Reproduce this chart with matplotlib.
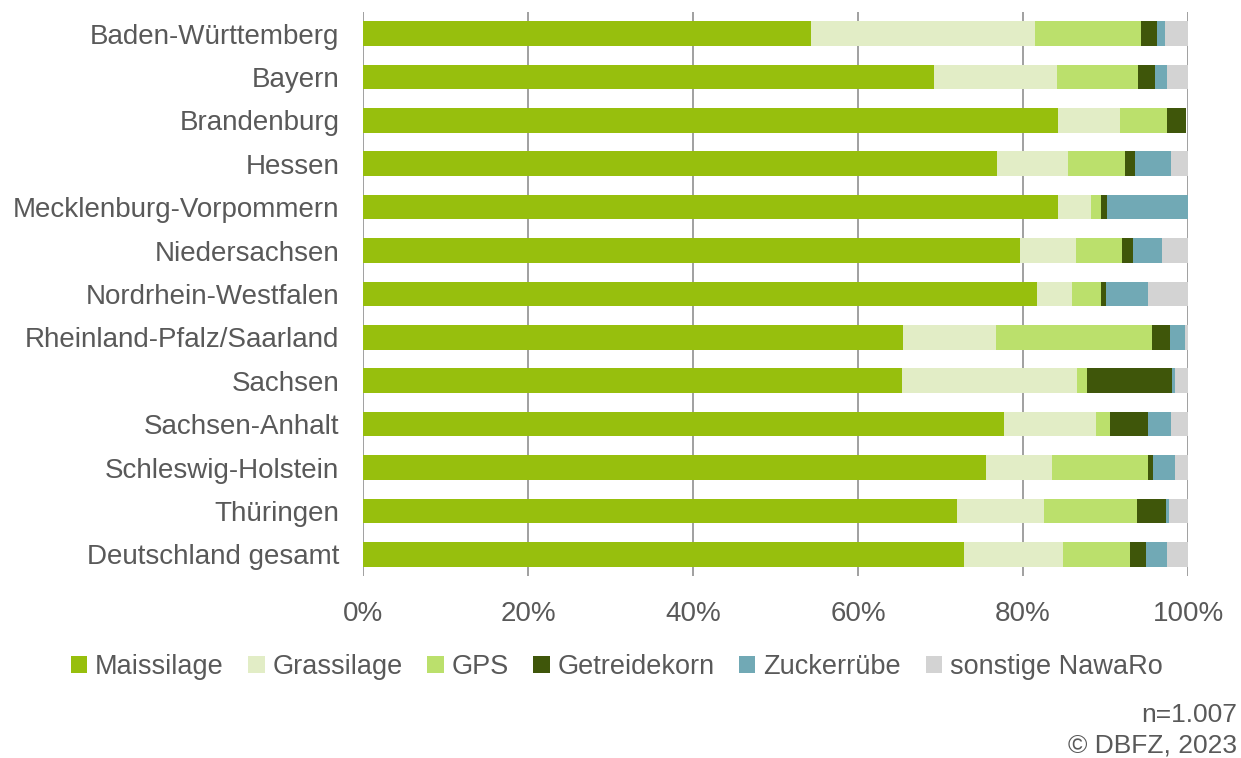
import matplotlib
matplotlib.use("Agg")
import matplotlib.pyplot as plt
import numpy as np

plt.rcParams['font.family'] = ['Liberation Sans', 'DejaVu Sans']

# Bundesländer, top to bottom
laender = ["Baden-Württemberg", "Bayern", "Brandenburg", "Hessen",
           "Mecklenburg-Vorpommern", "Niedersachsen", "Nordrhein-Westfalen",
           "Rheinland-Pfalz/Saarland", "Sachsen", "Sachsen-Anhalt",
           "Schleswig-Holstein", "Thüringen", "Deutschland gesamt"]

# share of substrate input in percent
maissilage = [54.3, 69.2, 84.2, 76.9, 84.3, 79.6, 81.7, 65.5, 65.3, 77.7, 75.5, 72.0, 72.8]
grassilage = [27.1, 14.9, 7.6, 8.5, 3.9, 6.8, 4.2, 11.2, 21.3, 11.1, 8.0, 10.5, 12.0]
gps = [12.9, 9.8, 5.6, 7.0, 1.2, 5.6, 3.5, 18.9, 1.1, 1.8, 11.7, 11.3, 8.2]
getreidekorn = [1.9, 2.1, 2.4, 1.2, 0.8, 1.3, 0.6, 2.2, 10.4, 4.5, 0.5, 3.5, 1.9]
zuckerruebe = [1.0, 1.5, 0.0, 4.3, 9.8, 3.5, 5.1, 1.8, 0.3, 2.8, 2.7, 0.4, 2.5]
sonstige = [2.8, 2.5, 0.0, 2.1, 0.0, 3.2, 4.9, 0.4, 1.6, 2.1, 1.6, 2.3, 2.6]

reihen = ["Maissilage", "Grassilage", "GPS", "Getreidekorn", "Zuckerrübe", "sonstige NawaRo"]
werte = [maissilage, grassilage, gps, getreidekorn, zuckerruebe, sonstige]
farben = ["#97BF0D", "#E2EDC6", "#BBE06C", "#3F560A", "#71A9B5", "#D3D3D3"]

grau = "#595959"

fig = plt.figure(figsize=(12.41, 7.58), dpi=100)
ax = fig.add_axes([0.2925, 0.2401, 0.6648, 0.7443])

y = np.arange(len(laender))
links = np.zeros(len(laender))
for name, w, c in zip(reihen, werte, farben):
    w = np.array(w)
    ax.barh(y, w, left=links, height=0.57, color=c, label=name, zorder=3)
    links += w

ax.set_ylim(len(laender) - 0.5, -0.5)
ax.set_xlim(0, 100)
ax.set_xticks(np.arange(0, 101, 20))
ax.set_xticklabels([f"{v}%" for v in range(0, 101, 20)])
ax.set_yticks(y)
ax.set_yticklabels(laender)
ax.tick_params(axis='both', length=0, labelsize=20, colors=grau)
ax.tick_params(axis='x', pad=18)
ax.tick_params(axis='y', pad=17)
ax.grid(axis='x', color="#999999", linewidth=1.3, zorder=0)
for s in ax.spines.values():
    s.set_visible(False)

leg = fig.legend(loc='center', bbox_to_anchor=(0.497, 0.12), ncol=6, frameon=False,
                 fontsize=19.5, handlelength=0.6, handleheight=0.6, handletextpad=0.3,
                 columnspacing=0.9)
for t in leg.get_texts():
    t.set_color(grau)

fig.text(0.997, 0.057, "n=1.007", ha='right', va='center', fontsize=19, color=grau)
fig.text(0.997, 0.017, "© DBFZ, 2023", ha='right', va='center', fontsize=19, color=grau)

fig.savefig("out.png", dpi=100)
